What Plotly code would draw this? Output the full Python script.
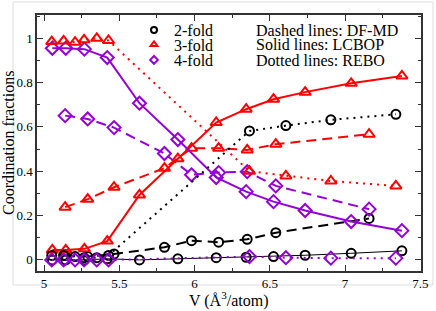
import plotly.graph_objects as go

# DF-MD (dashed)
x_df = [5.14, 5.29, 5.465, 5.80, 5.98, 6.16, 6.35, 6.54, 7.16]
df_2 = [0.020, 0.015, 0.027, 0.057, 0.087, 0.080, 0.093, 0.123, 0.187]
df_3 = [0.238, 0.274, 0.328, 0.414, 0.504, 0.504, 0.496, 0.522, 0.567]
df_4 = [0.651, 0.636, 0.597, 0.480, 0.384, 0.394, 0.398, 0.334, 0.229]

# LCBOP (solid)
x_lc = [5.055, 5.144, 5.268, 5.42, 5.634, 5.889, 6.144, 6.343, 6.525, 6.735, 7.041, 7.378]
lc_2 = [0.0, 0.0, 0.0, 0.005, 0.0, 0.005, 0.010, 0.012, 0.015, 0.021, 0.030, 0.041]
lc_3 = [0.045, 0.045, 0.050, 0.085, 0.293, 0.457, 0.620, 0.680, 0.725, 0.757, 0.797, 0.830]
lc_4 = [0.955, 0.955, 0.951, 0.913, 0.707, 0.543, 0.372, 0.308, 0.263, 0.223, 0.173, 0.132]

# REBO (dotted)
x_re = [5.051, 5.13, 5.206, 5.266, 5.35, 5.428, 6.365, 6.607, 6.906, 7.338]
re_2 = [0.020, 0.020, 0.015, 0.010, 0.010, 0.020, 0.582, 0.606, 0.632, 0.657]
re_3 = [0.985, 0.988, 0.982, 0.993, 1.000, 0.990, 0.400, 0.379, 0.356, 0.334]
re_4 = [0.0, 0.0, 0.0, 0.0, 0.0, 0.0, 0.015, 0.010, 0.008, 0.008]

x_ticks = [5, 5.5, 6, 6.5, 7, 7.5]
x_tick_labels = ["5", "5.5", "6", "6.5", "7", "7.5"]
y_ticks = [0, 0.2, 0.4, 0.6, 0.8, 1.0]
y_tick_labels = ["0", "0.2", "0.4", "0.6", "0.8", "1"]

legend_names = ["2-fold", "3-fold", "4-fold"]
method_notes = ["Dashed lines: DF-MD", "Solid lines: LCBOP", "Dotted lines: REBO"]
x_title = "V (Å<sup>3</sup>/atom)"
y_title = "Coordination fractions"

BLACK = "#000000"
RED = "#ff0000"
VIOLET = "#9400d3"
FONT = "Liberation Serif"

fig = go.Figure()

def add(x, y, color, symbol, dash, lw, msize=9):
    fig.add_trace(go.Scatter(
        x=x, y=y, mode="lines+markers", showlegend=False,
        line=dict(color=color, width=lw, dash=dash),
        marker=dict(symbol=symbol, size=msize, color=color,
                    line=dict(color=color, width=2)),
    ))

# dashed DF-MD
add(x_df, df_2, BLACK, "circle-open", "10px,6px", 2)
add(x_df, df_3, RED, "triangle-up-open", "10px,6px", 2, 10)
add(x_df, df_4, VIOLET, "diamond-open", "10px,6px", 2, 10)
# solid LCBOP
add(x_lc, lc_2, BLACK, "circle-open", "solid", 1)
add(x_lc, lc_3, RED, "triangle-up-open", "solid", 2, 10)
add(x_lc, lc_4, VIOLET, "diamond-open", "solid", 2, 10)
# dotted REBO
add(x_re, re_2, BLACK, "circle-open", "2px,5px", 2)
add(x_re, re_3, RED, "triangle-up-open", "2px,5px", 2, 10)
add(x_re, re_4, VIOLET, "diamond-open", "2px,5px", 2, 10)

# legend entries, one legend per row
leg_ids = ["legend", "legend2", "legend3"]
leg_syms = ["circle-open", "triangle-up-open", "diamond-open"]
leg_cols = [BLACK, RED, VIOLET]
for name, lid, sym, col in zip(legend_names, leg_ids, leg_syms, leg_cols):
    fig.add_trace(go.Scatter(
        x=[None], y=[None], mode="markers", name=name, legend=lid,
        marker=dict(symbol=sym, size=6, color=col, line=dict(color=col, width=2)),
    ))

L, R, T, B = 37, 15, 15, 40
W, H = 436, 311
pw, ph = W - L - R, H - T - B
row_y = [30, 44.5, 60]

def py(pix):
    return (H - B - pix) / ph

def px(pix):
    return (pix - L) / pw

leg_common = dict(font=dict(family=FONT, size=16, color="black"), bgcolor="rgba(0,0,0,0)",
                  borderwidth=0, xanchor="left", yanchor="middle", itemwidth=30)

axis_common = dict(ticks="inside", ticklen=6, tickwidth=1, tickcolor="#333",
                   showline=True, linecolor="#333", linewidth=1.5, mirror="ticks",
                   showgrid=False, zeroline=False, automargin=False,
                   tickfont=dict(family=FONT, size=13, color="black"))

fig.update_layout(
    width=W, height=H,
    margin=dict(l=L, r=R, t=T, b=B, autoexpand=False),
    paper_bgcolor="white", plot_bgcolor="white",
    font=dict(family=FONT, size=13, color="black"),
    legend=dict(x=px(134), y=py(row_y[0]), **leg_common),
    legend2=dict(x=px(134), y=py(row_y[1]), **leg_common),
    legend3=dict(x=px(134), y=py(row_y[2]), **leg_common),
    xaxis=dict(range=[4.953, 7.505], tickvals=x_ticks, ticktext=x_tick_labels,
               minor=dict(dtick=0.25, tick0=5, ticks="inside", ticklen=3, tickcolor="#333"),
               **axis_common),
    yaxis=dict(range=[-0.05, 1.105], tickvals=y_ticks, ticktext=y_tick_labels,
               minor=dict(dtick=0.1, tick0=0, ticks="inside", ticklen=3, tickcolor="#333"),
               **axis_common),
)

for txt, yy in zip(method_notes, row_y):
    fig.add_annotation(text=txt, xref="paper", yref="paper", x=px(254), y=py(yy),
                       xanchor="left", yanchor="middle", showarrow=False,
                       font=dict(family=FONT, size=16, color="black"))

# axis titles
fig.add_annotation(text=x_title, xref="paper", yref="paper", x=px(229), y=py(299),
                   xanchor="center", yanchor="middle", showarrow=False,
                   font=dict(family=FONT, size=16, color="black"))
fig.add_annotation(text=y_title, xref="paper", yref="paper", x=px(8), y=py(143),
                   xanchor="center", yanchor="middle", showarrow=False, textangle=-90,
                   font=dict(family=FONT, size=16, color="black"))

# faint page border
fig.add_shape(type="rect", xref="paper", yref="paper",
              x0=px(13), x1=px(433), y0=py(285), y1=py(2),
              line=dict(color="#dddddd", width=1), layer="below")

fig.write_html("out.html", config={"displayModeBar": False},
               post_script="document.body.style.margin='0px';document.body.style.padding='0px';")
